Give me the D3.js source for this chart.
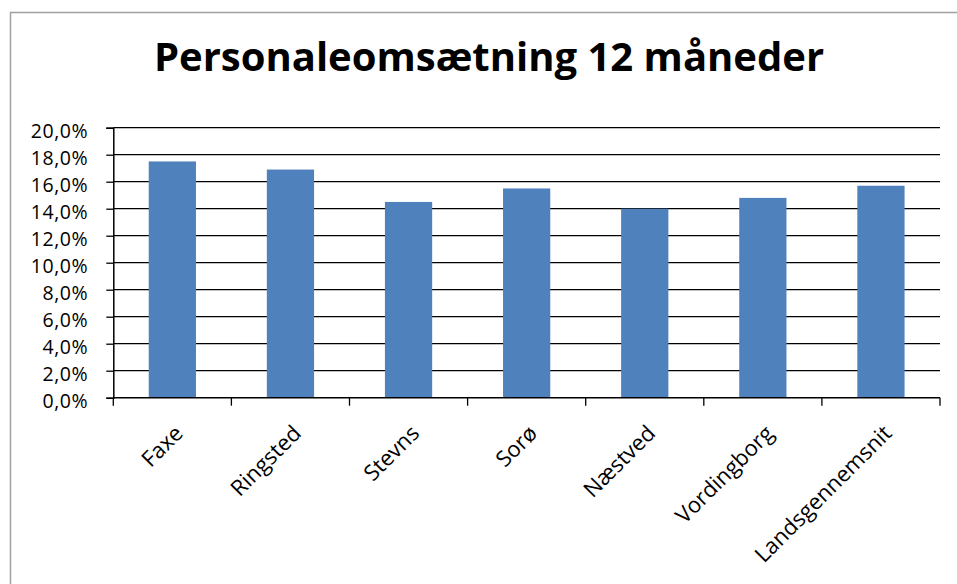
<!DOCTYPE html>
<html>
<head>
<meta charset="utf-8">
<script src="https://cdn.jsdelivr.net/npm/d3@7"></script>
<style>
  body { margin: 0; background: #fff; }
  text { font-family: "Open Sans", sans-serif; fill: #000; }
</style>
</head>
<body>
<div id="chart"></div>
<script>
const title = 'Personaleomsætning 12 måneder';
const kommuner = ['Faxe', 'Ringsted', 'Stevns', 'Sorø', 'Næstved', 'Vordingborg', 'Landsgennemsnit'];
const omsaetning = [0.175, 0.169, 0.145, 0.155, 0.140, 0.148, 0.157];
const yTicks = [0, 0.02, 0.04, 0.06, 0.08, 0.10, 0.12, 0.14, 0.16, 0.18, 0.20];

const W = 957, H = 584;
const svg = d3.select('#chart').append('svg')
  .attr('width', W)
  .attr('height', H);

// chart border
svg.append('rect')
  .attr('x', 10.5).attr('y', 12.5)
  .attr('width', W).attr('height', H)
  .attr('fill', 'none')
  .attr('stroke', '#a0a0a0')
  .attr('stroke-width', 1.5);

svg.append('text')
  .attr('x', 489)
  .attr('y', 71)
  .attr('text-anchor', 'middle')
  .style('font-size', '40px')
  .style('font-weight', 'bold')
  .text(title);

const plotL = 113.3, plotR = 940, plotT = 127.7, plotB = 397.7;

const x = d3.scaleBand().domain(kommuner).range([plotL, plotR])
  .paddingInner(0.6).paddingOuter(0.3);
const step = x.step();
const y = d3.scaleLinear().domain([0, 0.2]).range([plotB, plotT]);

const fmt = v => d3.format('.1f')(v * 100).replace('.', ',') + '%';

// gridlines
svg.append('g')
  .selectAll('line')
  .data(yTicks.slice(1))
  .join('line')
  .attr('x1', plotL).attr('x2', plotR)
  .attr('y1', d => y(d)).attr('y2', d => y(d))
  .attr('stroke', '#000')
  .attr('stroke-width', 1.3);

// bars
svg.append('g')
  .selectAll('rect')
  .data(kommuner)
  .join('rect')
  .attr('x', d => x(d))
  .attr('y', (d, i) => y(omsaetning[i]))
  .attr('width', x.bandwidth())
  .attr('height', (d, i) => plotB - y(omsaetning[i]))
  .attr('fill', '#4f81bd');

// y axis
const yAxis = svg.append('g')
  .attr('transform', `translate(${plotL},0)`)
  .call(d3.axisLeft(y).tickValues(yTicks).tickFormat(fmt).tickSize(7));
yAxis.select('.domain').attr('stroke-width', 1.5);
yAxis.selectAll('.tick line').attr('stroke-width', 1.3);
yAxis.selectAll('.tick text')
  .attr('x', -25)
  .attr('dy', '0.52em')
  .style('font-size', '19.5px')
  .style('letter-spacing', '0.6px');

// x axis: ticks at category boundaries
const bounds = d3.range(kommuner.length + 1).map(i => plotL + i * step);
svg.append('line')
  .attr('x1', plotL).attr('x2', plotR)
  .attr('y1', plotB).attr('y2', plotB)
  .attr('stroke', '#000').attr('stroke-width', 1.5);
svg.append('g')
  .selectAll('line')
  .data(bounds)
  .join('line')
  .attr('x1', d => d).attr('x2', d => d)
  .attr('y1', plotB).attr('y2', plotB + 8)
  .attr('stroke', '#000').attr('stroke-width', 1.3);

svg.append('g')
  .selectAll('text')
  .data(kommuner)
  .join('text')
  .attr('transform', d => `translate(${x(d) + x.bandwidth() / 2 + 12},${plotB + 37}) rotate(-45)`)
  .attr('text-anchor', 'end')
  .style('font-size', '22px')
  .text(d => d);
</script>
</body>
</html>
